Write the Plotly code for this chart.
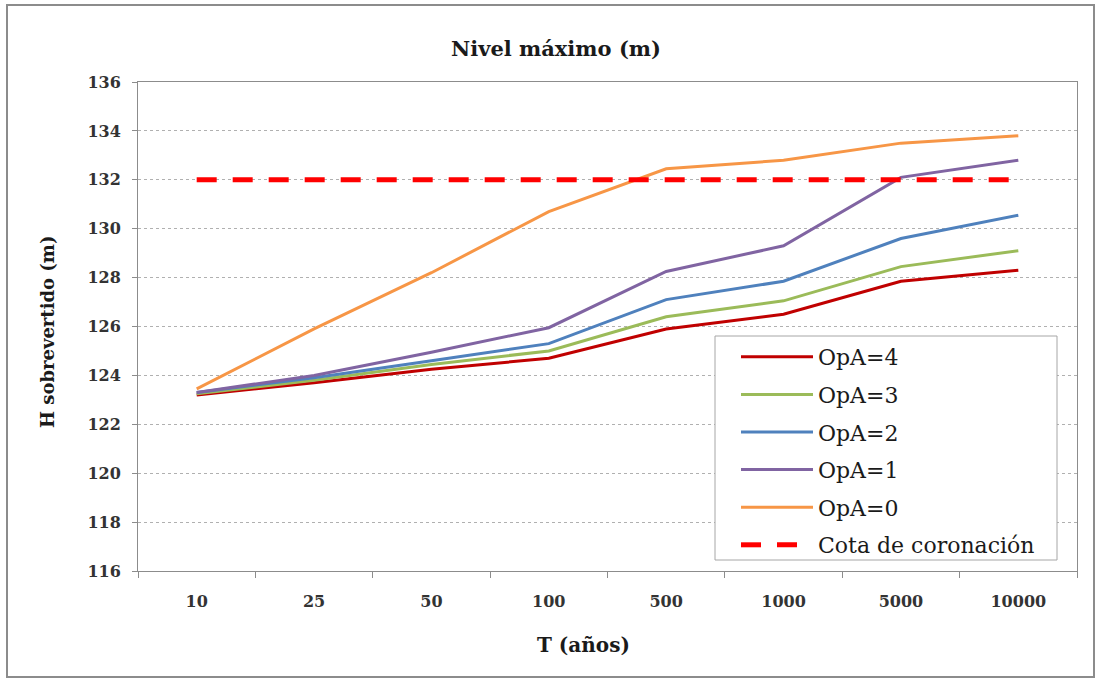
import plotly.graph_objects as go

# Return periods (categorical x axis)
periodos = ["10", "25", "50", "100", "500", "1000", "5000", "10000"]

# Maximum water level (m) for each operation scenario
opa_4 = [123.2, 123.7, 124.25, 124.7, 125.9, 126.5, 127.85, 128.3]
opa_3 = [123.25, 123.8, 124.45, 125.0, 126.4, 127.05, 128.45, 129.1]
opa_2 = [123.3, 123.9, 124.6, 125.3, 127.1, 127.85, 129.6, 130.55]
opa_1 = [123.3, 124.0, 124.95, 125.95, 128.25, 129.3, 132.1, 132.8]
opa_0 = [123.45, 125.9, 128.2, 130.7, 132.45, 132.8, 133.5, 133.8]
cota_coronacion = [132.0] * len(periodos)

series = [
    ("OpA=4", opa_4, "#C00000"),
    ("OpA=3", opa_3, "#9BBB59"),
    ("OpA=2", opa_2, "#4F81BD"),
    ("OpA=1", opa_1, "#8064A2"),
    ("OpA=0", opa_0, "#F79646"),
]

FONT = "DejaVu Serif"

fig = go.Figure()
for i, (name, vals, color) in enumerate(series):
    fig.add_trace(go.Scatter(
        x=periodos, y=vals, name=name, mode="lines",
        line=dict(color=color, width=3),
        legendgroup=f"g{i}",
    ))
fig.add_trace(go.Scatter(
    x=periodos, y=cota_coronacion, name="Cota de coronación", mode="lines",
    line=dict(color="#FF0000", width=5, dash="20px,16px"),
    legendgroup="g5",
))

# plot-area geometry in pixels
L, R, T, B = 138, 1077, 82, 571
W, H = 1100, 680
pw, ph = R - L, B - T


def px(x):
    return (x - L) / pw


def py(y):
    return (B - y) / ph


fig.update_layout(
    width=W, height=H,
    margin=dict(l=L, r=W - R, t=T, b=H - B),
    paper_bgcolor="white", plot_bgcolor="white",
    font=dict(family=FONT, color="#333333"),
    showlegend=True,
    legend=dict(
        x=px(736), y=py(336), xanchor="left", yanchor="top",
        bgcolor="rgba(0,0,0,0)", borderwidth=0,
        font=dict(family=FONT, size=22, color="#1A1A1A"),
        itemwidth=72, tracegroupgap=6,
    ),
    xaxis=dict(
        type="category", tickson="boundaries",
        showline=True, linecolor="#8C8C8C", linewidth=1, mirror=True,
        ticks="outside", ticklen=6, tickcolor="#8C8C8C",
        showgrid=False, ticklabelstandoff=16,
        tickfont=dict(family=FONT, size=16, color="#333333", weight="bold"),
        range=[-0.5, 7.5],
    ),
    yaxis=dict(
        range=[116, 136], dtick=2, tick0=116,
        showline=True, linecolor="#8C8C8C", linewidth=1, mirror=True,
        ticks="outside", ticklen=5, tickcolor="#8C8C8C",
        showgrid=True, gridcolor="#B0B0B0", gridwidth=1, griddash="3px,3px",
        zeroline=False, ticklabelstandoff=8,
        tickfont=dict(family=FONT, size=16, color="#333333", weight="bold"),
    ),
)

# chart title and axis titles
fig.add_annotation(
    text="<b>Nivel máximo (m)</b>", xref="paper", yref="paper",
    x=px(556), y=py(48), xanchor="center", yanchor="middle", showarrow=False,
    font=dict(family=FONT, size=21, color="#1A1A1A"),
)
fig.add_annotation(
    text="<b>T (años)</b>", xref="paper", yref="paper",
    x=px(583), y=py(645), xanchor="center", yanchor="middle", showarrow=False,
    font=dict(family=FONT, size=20, color="#1A1A1A"),
)
fig.add_annotation(
    text="<b>H sobrevertido (m)</b>", xref="paper", yref="paper",
    x=px(47), y=py(332), xanchor="center", yanchor="middle", showarrow=False,
    textangle=-90, font=dict(family=FONT, size=18, color="#1A1A1A"),
)

# legend box
fig.add_shape(
    type="rect", xref="paper", yref="paper",
    x0=px(715), x1=px(1057), y0=py(560), y1=py(336),
    line=dict(color="#A6A6A6", width=1), fillcolor="white", layer="above",
)

# outer chart frame
fig.add_shape(
    type="rect", xref="paper", yref="paper",
    x0=px(7), x1=px(1094), y0=py(677), y1=py(5),
    line=dict(color="#8C8C8C", width=2), fillcolor="rgba(0,0,0,0)", layer="below",
)

fig.write_html("out.html")
